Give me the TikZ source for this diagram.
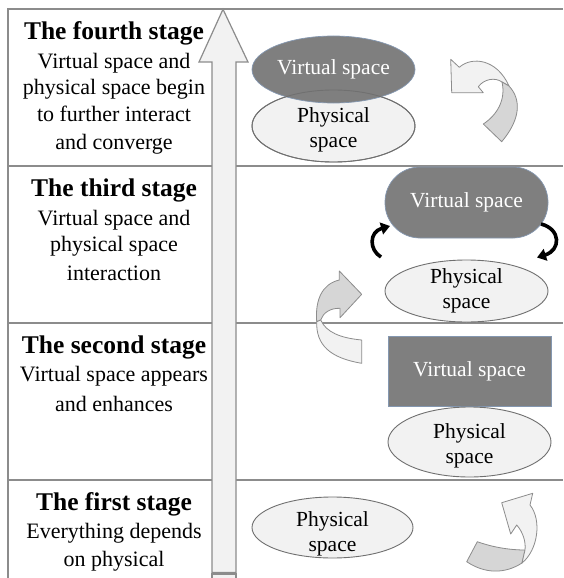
\documentclass[tikz,border=0pt]{standalone}
\usepackage{fontspec}
\setmainfont{Liberation Serif}
\usetikzlibrary{shapes.geometric,arrows.meta}
\definecolor{gridc}{HTML}{8C8C8C}
\definecolor{darkfill}{HTML}{7F7F7F}
\definecolor{darkedge}{HTML}{8497B0}
\definecolor{lightfill}{HTML}{F2F2F2}
\definecolor{midfill}{HTML}{D6D6D6}
\definecolor{physedge}{HTML}{707070}
\definecolor{arredge}{HTML}{8C8C8C}
\begin{document}
\begin{tikzpicture}[x=1pt,y=-1pt,
  gridline/.style={draw=gridc,line width=1.4pt},
  titletext/.style={font=\fontsize{25.5}{29}\selectfont\bfseries,anchor=base,inner sep=0pt},
  bodytext/.style={font=\fontsize{22}{27}\selectfont,anchor=base,inner sep=0pt},
  physshape/.style={ellipse,draw=physedge,fill=lightfill,line width=0.9pt,inner sep=0pt},
  phystext/.style={align=center,anchor=base,inner sep=0pt,font=\fontsize{21.5}{25}\selectfont},
  virtshape/.style={fill=darkfill,draw=darkedge,line width=0.7pt,text=white,inner sep=0pt,font=\fontsize{21.5}{25}\selectfont},
  bigarrow/.style={draw=gridc,fill=lightfill,line width=1.2pt,line join=miter},
  lightpart/.style={draw=arredge,fill=lightfill,line width=0.8pt,line join=round},
  darkpart/.style={draw=arredge,fill=midfill,line width=0.8pt,line join=round},
  blackarrow/.style={draw=black,line width=3.6pt,-{Triangle[length=9pt,width=12pt]}}
]
\useasboundingbox (0,0) rectangle (563,578);
\clip (0,0) rectangle (563,578);
\fill[white] (0,0) rectangle (563,578);

% table grid
\draw[gridline] (8,9) -- (563,9);
\draw[gridline] (8,166) -- (563,166);
\draw[gridline] (8,323) -- (563,323);
\draw[gridline] (8,480) -- (563,480);
\draw[gridline] (8,8.3) -- (8,580);

% big stage arrow
\draw[bigarrow] (212,572.5) -- (212,62) -- (199,62) -- (223,9.3) -- (248,62) -- (236,62) -- (236,572.5) -- cycle;
\draw[bigarrow] (212,574) rectangle (236,590);
\fill[gridc] (224,573.3) circle (0.9);

% left column texts
\node[titletext] (t4) at (114,40) {The fourth stage};
\node[bodytext] (t4a) at (114,68) {Virtual space and};
\node[bodytext] (t4b) at (114,94.5) {physical space begin};
\node[bodytext] (t4c) at (114,121) {to further interact};
\node[bodytext] (t4d) at (114,149) {and converge};

\node[titletext] (t3) at (114,196.7) {The third stage};
\node[bodytext] (t3a) at (114,225) {Virtual space and};
\node[bodytext] (t3b) at (114,251.7) {physical space};
\node[bodytext] (t3c) at (114,280.7) {interaction};

\node[titletext] (t2) at (114,353.3) {The second stage};
\node[bodytext] (t2a) at (114,381.7) {Virtual space appears};
\node[bodytext] (t2b) at (114,411.7) {and enhances};

\node[titletext] (t1) at (114,510) {The first stage};
\node[bodytext] (t1a) at (114,538.3) {Everything depends};
\node[bodytext] (t1b) at (114,566.7) {on physical};

% stage 4
\node[physshape,minimum width=163pt,minimum height=72pt] (p4) at (333.5,126) {};
\node[virtshape,ellipse,minimum width=163pt,minimum height=67pt] (v4) at (333.5,69.5) {Virtual space};
\draw[draw=physedge,line width=0.9pt] (p4.center) ellipse [x radius=81.5pt,y radius=36pt];
\node[phystext] (p4t) at (333.5,147.5) {Physical\\space};

% stage 3
\node[virtshape,rectangle,rounded corners=35pt,minimum width=163pt,minimum height=71pt] (v3) at (466.5,202.5) {Virtual space};
\node[physshape,minimum width=163pt,minimum height=62pt] (p3) at (466.5,291) {};
\node[phystext] (p3t) at (466.5,308.5) {Physical\\space};
\coordinate (la1) at (381,257);
\coordinate (la2) at (390,226);
\coordinate (ra1) at (541,224);
\coordinate (ra2) at (537,257.5);
\draw[blackarrow] (la1) .. controls (369,250) and (369,232) .. (la2);
\draw[blackarrow] (ra1) .. controls (561,229) and (561,250) .. (ra2);

% stage 2
\node[virtshape,rectangle,minimum width=163pt,minimum height=70pt] (v2) at (469.5,371) {\raisebox{-3pt}{Virtual space}};
\node[physshape,minimum width=163pt,minimum height=70pt] (p2) at (469.5,442) {};
\node[phystext] (p2t) at (469.5,463) {Physical\\space};

% stage 1
\node[physshape,minimum width=161pt,minimum height=61pt] (p1) at (332.5,527.5) {};
\node[phystext] (p1t) at (332.5,551.5) {Physical\\space};

% curved arrow, stage 4
\draw[lightpart] (450.7,59.3) -- (459.3,67.3) .. controls (472,56) and (497,59) .. (509,86) -- (502,82) .. controls (495,77) and (484,79) .. (478.3,86.7) -- (483.3,92.7) -- (451.7,92.7) -- cycle;
\draw[darkpart] (502,82) .. controls (506,100) and (497,115) .. (483.3,124) -- (501.7,141.7) .. controls (520,120) and (522,100) .. (509,86) -- cycle;

% curved arrow, stage 2 to 3
\draw[darkpart] (339.3,271) -- (361.7,294.3) -- (340,317.7) -- (340,308.3) .. controls (330,308) and (323,313) .. (320.7,320) -- (316.7,321.7) .. controls (315,300) and (322,284) .. (339.3,280) -- cycle;
\draw[lightpart] (316.7,321.7) .. controls (316,345) and (330,358) .. (361.7,363.3) -- (361.7,340) .. controls (340,338) and (326,332) .. (320.7,320) -- cycle;

% curved arrow, stage 1
\draw[darkpart] (477.3,541.7) .. controls (495,548) and (512,550) .. (525,550) -- (522,563) .. controls (505,574) and (485,574) .. (466.7,561.7) -- cycle;
\draw[lightpart] (532.7,493.3) -- (501.7,502.7) -- (510.7,534) -- (516.7,525) .. controls (523,532) and (526,542) .. (525,550) -- (522,563) .. controls (538,550) and (542,520) .. (530,505) -- cycle;
\end{tikzpicture}
\end{document}
